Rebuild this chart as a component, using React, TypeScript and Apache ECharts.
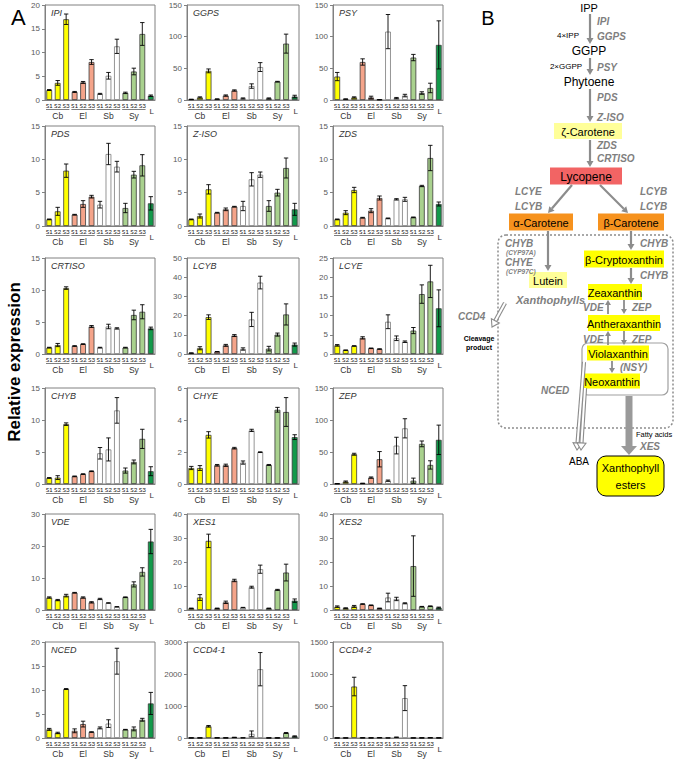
import React, { useEffect, useRef } from "react";
import * as echarts from "echarts";

const FONT = "'Liberation Sans', Arial, sans-serif";
const NARROW = "'Liberation Sans Narrow', Lato, 'Liberation Sans', sans-serif";

const categories = ["S1", "S2", "S3", "S1", "S2", "S3", "S1", "S2", "S3", "S1", "S2", "S3", "L"];
const groupNames = ["Cb", "El", "Sb", "Sy"];
const groupRanges = [[0, 2], [3, 5], [6, 8], [9, 11]];
const groupColors = ["#FFFF00", "#F4A48A", "#FFFFFF", "#A9D18E", "#12994A"];

const ipiMean = [2.1, 3.6, 17.0, 1.7, 3.7, 8.0, 1.3, 5.1, 11.3, 1.5, 6.0, 13.9, 0.9];
const ipiErr = [0.1, 0.5, 1.1, 0.1, 0.2, 0.5, 0.1, 0.7, 1.5, 0.15, 0.7, 2.4, 0.15];
const ggpsMean = [1, 4, 46, 1.5, 7, 15, 2.5, 22, 52, 2.5, 29, 89, 5.5];
const ggpsErr = [0.3, 1, 3, 0.3, 1, 1, 0.8, 3.5, 7, 0.8, 0.5, 15, 2];
const psyMean = [37, 1.5, 4, 60, 4, 0.5, 108, 3, 7, 67, 11, 19, 87];
const psyErr = [6.5, 0.3, 1, 5, 2, 0.2, 27, 1, 2, 5, 2, 7.5, 38];
const pdsMean = [1.0, 2.2, 8.3, 1.7, 3.3, 4.4, 3.2, 10.8, 8.9, 2.7, 7.7, 9.1, 3.4];
const pdsErr = [0.05, 0.6, 1.0, 0.05, 0.5, 0.2, 0.5, 1.6, 0.8, 0.7, 0.5, 1.6, 1.0];
const zisoMean = [1.0, 1.5, 5.5, 2.0, 2.5, 2.9, 3.0, 7.0, 7.7, 3.0, 5.0, 8.7, 2.5];
const zisoErr = [0.05, 0.3, 0.7, 0.05, 0.2, 0.05, 0.7, 1.0, 0.4, 0.8, 0.5, 1.5, 0.9];
const zdsMean = [1.0, 2.0, 5.4, 1.25, 2.3, 4.2, 1.15, 4.0, 4.0, 1.3, 6.0, 10.2, 3.3];
const zdsErr = [0.05, 0.3, 0.4, 0.05, 0.3, 0.3, 0.05, 0.1, 0.3, 0.05, 0.1, 1.9, 0.3];
const crtisoMean = [1.0, 1.4, 10.3, 1.25, 1.55, 4.3, 1.0, 4.3, 4.0, 1.0, 6.1, 6.6, 4.0];
const crtisoErr = [0.05, 0.25, 0.2, 0.05, 0.05, 0.15, 0.05, 0.35, 0.1, 0.05, 0.75, 1.1, 0.2];
const lcybMean = [0.5, 3, 19.2, 1.2, 4.5, 9.6, 2.6, 18, 37.2, 2.8, 10.1, 20.6, 4.9];
const lcybErr = [0.1, 0.8, 1.2, 0.1, 0.5, 0.5, 0.6, 3.7, 3.3, 1.2, 0.8, 5.5, 0.8];
const lcyeMean = [2.25, 1.0, 2.1, 4.2, 1.5, 1.3, 8.4, 4.1, 3.2, 6.1, 15.6, 18.9, 11.9];
const lcyeErr = [0.2, 0.05, 0.05, 0.3, 0.05, 0.05, 1.8, 0.6, 0.2, 0.8, 2.4, 4.2, 4.8];
const chybMean = [0.95, 1.0, 9.35, 1.2, 1.55, 2.0, 4.8, 5.4, 11.5, 2.1, 3.45, 7.05, 2.0];
const chybErr = [0.05, 0.3, 0.2, 0.05, 0.05, 0.05, 0.9, 1.8, 2.0, 0.4, 0.3, 1.5, 0.7];
const chyeMean = [1.0, 1.0, 3.07, 1.17, 1.17, 2.24, 1.34, 3.35, 1.99, 1.19, 4.64, 4.5, 2.93];
const chyeErr = [0.1, 0.15, 0.2, 0.05, 0.07, 0.05, 0.1, 0.07, 0.02, 0.03, 0.15, 0.9, 0.15];
const zepMean = [0.5, 3.7, 46.5, 1, 10, 38.7, 5.2, 60, 87, 5.2, 62.7, 29.8, 69];
const zepErr = [0.2, 1, 1.5, 0.3, 1, 12, 1, 13, 15, 4, 4.5, 6.5, 23];
const vdeMean = [3.9, 3.1, 4.5, 5.4, 3.9, 2.4, 3.45, 2.2, 1.0, 4.0, 8.0, 11.9, 21.4];
const vdeErr = [0.2, 0.2, 0.4, 0.1, 0.2, 0.2, 0.2, 0.05, 0.05, 0.1, 0.8, 1.3, 3.8];
const xes1Mean = [0.7, 5.2, 28.8, 0.7, 3.2, 12.3, 1.0, 9.5, 17.0, 0.7, 8.4, 15.6, 3.9];
const xes1Err = [0.1, 1.2, 2.8, 0.1, 0.5, 0.5, 0.1, 0.4, 1.7, 0.1, 0.2, 3.5, 0.7];
const xes2Mean = [1.4, 0.8, 1.5, 2.5, 2.0, 0.7, 5.2, 4.6, 2.8, 18.3, 1.4, 1.6, 1.0];
const xes2Err = [0.3, 0.1, 0.4, 0.1, 0.1, 0.1, 1.8, 0.7, 0.2, 12.6, 0.1, 0.1, 0.2];
const ncedMean = [1.8, 1.05, 10.2, 1.5, 2.9, 1.25, 2.1, 3.0, 16.0, 1.75, 1.9, 3.8, 7.2];
const ncedErr = [0.2, 0.15, 0.1, 0.4, 0.6, 0.05, 0.2, 0.8, 2.7, 0.05, 0.4, 0.3, 2.3];
const ccd41Mean = [3, 4, 366, 6, 5, 20, 5, 130, 2150, 3, 3, 157, 52];
const ccd41Err = [1, 1, 25, 1, 1, 3, 1, 90, 520, 1, 1, 15, 15];
const ccd42Mean = [1, 1, 804, 3, 2, 5, 1, 12, 623, 1, 2, 4, 2];
const ccd42Err = [0.3, 0.3, 145, 1, 1, 1, 0.3, 3, 195, 0.3, 0.5, 1, 0.5];

const geneNames = ["IPI", "GGPS", "PSY", "PDS", "Z-ISO", "ZDS", "CRTISO", "LCYB", "LCYE", "CHYB", "CHYE", "ZEP", "VDE", "XES1", "XES2", "NCED", "CCD4-1", "CCD4-2"];
const geneMeans = [ipiMean, ggpsMean, psyMean, pdsMean, zisoMean, zdsMean, crtisoMean, lcybMean, lcyeMean, chybMean, chyeMean, zepMean, vdeMean, xes1Mean, xes2Mean, ncedMean, ccd41Mean, ccd42Mean];
const geneErrs = [ipiErr, ggpsErr, psyErr, pdsErr, zisoErr, zdsErr, crtisoErr, lcybErr, lcyeErr, chybErr, chyeErr, zepErr, vdeErr, xes1Err, xes2Err, ncedErr, ccd41Err, ccd42Err];
const axisMax = [20, 150, 150, 15, 15, 15, 15, 50, 25, 15, 6, 150, 30, 40, 40, 20, 3000, 1500];
const axisStep = [5, 50, 50, 5, 5, 5, 5, 10, 5, 5, 2, 50, 10, 10, 10, 5, 1000, 500];

const colLeft = [45, 187, 333];
const colWidth = [110, 112, 110];
const rowTop = [5, 126, 258, 388, 514, 642];
const rowHeight = [95, 100, 96, 96, 96, 96];

const GRAY = "#8C8C8C";
const ENZ = "#7F7F7F";

function txt(text: string, x: number, y: number, o: any = {}) {
  const align = o.align || "center";
  return {
    type: "text",
    x,
    y,
    z: 20,
    silent: true,
    style: {
      text,
      fill: o.fill || "#000",
      fontSize: o.size || 11,
      fontWeight: o.bold ? "bold" : "normal",
      fontStyle: o.italic ? "italic" : "normal",
      fontFamily: FONT,
      align,
      verticalAlign: "middle",
      textAlign: align,
      textVerticalAlign: "middle",
    },
  };
}
function enz(text: string, x: number, y: number, size = 10, align = "left") {
  return txt(text, x, y, { fill: ENZ, bold: true, italic: true, size, align });
}
function box(text: string, cx: number, cy: number, w: number, h: number, fill: string, size = 11) {
  return [
    {
      type: "rect",
      z: 10,
      silent: true,
      shape: { x: cx - w / 2, y: cy - h / 2, width: w, height: h },
      style: { fill, stroke: "none" },
    },
    txt(text, cx, cy + 0.5, { size }),
  ];
}
function arrow(x1: number, y1: number, x2: number, y2: number, lw = 2.2, head = 6, hw = 3.5, color = GRAY) {
  const dx = x2 - x1, dy = y2 - y1;
  const len = Math.sqrt(dx * dx + dy * dy);
  const ux = dx / len, uy = dy / len;
  const bx = x2 - ux * head, by = y2 - uy * head;
  const nx = -uy, ny = ux;
  return [
    { type: "line", z: 12, silent: true, shape: { x1, y1, x2: bx, y2: by }, style: { stroke: color, lineWidth: lw } },
    {
      type: "polygon",
      z: 12,
      silent: true,
      shape: { points: [[x2, y2], [bx + nx * hw, by + ny * hw], [bx - nx * hw, by - ny * hw]] },
      style: { fill: color, stroke: "none" },
    },
  ];
}
function hollowArrow(pts: number[][], head = 7, hw = 4.5) {
  const n = pts.length;
  const [x2, y2] = pts[n - 1];
  const [x1, y1] = pts[n - 2];
  const dx = x2 - x1, dy = y2 - y1;
  const len = Math.sqrt(dx * dx + dy * dy);
  const ux = dx / len, uy = dy / len;
  const bx = x2 - ux * head, by = y2 - uy * head;
  const nx = -uy, ny = ux;
  const body = pts.slice(0, n - 1).concat([[bx, by]]);
  return [
    { type: "polyline", z: 12, silent: true, shape: { points: body }, style: { stroke: "#8C8C8C", lineWidth: 4.2, fill: "none" } },
    { type: "polyline", z: 13, silent: true, shape: { points: body }, style: { stroke: "#FFFFFF", lineWidth: 2, fill: "none" } },
    {
      type: "polygon",
      z: 14,
      silent: true,
      shape: { points: [[x2, y2], [bx + nx * hw, by + ny * hw], [bx - nx * hw, by - ny * hw]] },
      style: { fill: "#FFFFFF", stroke: "#8C8C8C", lineWidth: 1.1 },
    },
  ];
}

function buildPanelB(): any[] {
  const els: any[] = [];
  els.push(txt("B", 488, 18, { size: 20 }));
  els.push({
    type: "rect",
    z: 5,
    silent: true,
    shape: { x: 498, y: 235, width: 175, height: 193, r: 8 },
    style: { fill: "none", stroke: "#8C8C8C", lineWidth: 1.5, lineDash: [2, 2] },
  });
  els.push({
    type: "rect",
    z: 6,
    silent: true,
    shape: { x: 582, y: 343, width: 86, height: 52, r: 6 },
    style: { fill: "#FFFFFF", stroke: "#A0A0A0", lineWidth: 1.2 },
  });
  els.push(txt("IPP", 589, 8, { size: 11 }));
  els.push(txt("GGPP", 589, 51, { size: 12 }));
  els.push(txt("Phytoene", 589, 82, { size: 12 }));
  els.push(...box("ζ-Carotene", 588, 131, 68, 16, "#FFFF99"));
  els.push(...box("Lycopene", 586, 176, 72, 17, "#F26464", 12));
  els.push(...box("α-Carotene", 541, 222, 64, 17, "#F6921E"));
  els.push(...box("β-Carotene", 631, 222, 66, 17, "#F6921E"));
  els.push(...box("Lutein", 548, 280, 38, 16, "#FFFF99"));
  els.push(...box("β-Cryptoxanthin", 624, 259, 80, 17, "#FFFF00"));
  els.push(...box("Zeaxanthin", 615, 292, 54, 16, "#FFFF00"));
  els.push(...box("Antheraxanthin", 624, 323, 72, 16, "#FFFF00"));
  els.push(...box("Violaxanthin", 618, 353, 62, 15, "#FFFF00"));
  els.push(...box("Neoxanthin", 612, 381, 56, 15, "#FFFF00"));
  els.push({
    type: "rect",
    z: 10,
    silent: true,
    shape: { x: 597, y: 456, width: 67, height: 40, r: 9 },
    style: { fill: "#FFFF00", stroke: "#000", lineWidth: 1 },
  });
  els.push(txt("Xanthophyll", 630.5, 468, { size: 11 }));
  els.push(txt("esters", 630.5, 485, { size: 11 }));
  els.push(txt("ABA", 579, 461, { size: 10 }));
  els.push(txt("4×IPP", 568, 35, { size: 8 }));
  els.push(txt("2×GGPP", 566, 66, { size: 8 }));
  els.push(txt("Fatty acids", 654, 434, { size: 7.5 }));
  els.push(txt("Cleavage", 479, 338, { size: 7, bold: true }));
  els.push(txt("product", 479, 347, { size: 7, bold: true }));
  els.push(enz("IPI", 597, 21));
  els.push(enz("GGPS", 597, 36));
  els.push(enz("PSY", 597, 67));
  els.push(enz("PDS", 597, 97));
  els.push(enz("Z-ISO", 597, 117));
  els.push(enz("ZDS", 597, 145));
  els.push(enz("CRTISO", 597, 158));
  els.push(enz("LCYE", 515, 191));
  els.push(enz("LCYB", 515, 206));
  els.push(enz("LCYB", 640, 191));
  els.push(enz("LCYB", 640, 206));
  els.push(enz("CHYB", 505, 243));
  els.push(enz("(CYP97A)", 506, 252, 6.5));
  els.push(enz("CHYE", 505, 262));
  els.push(enz("(CYP97C)", 506, 271, 6.5));
  els.push(enz("CHYB", 640, 243));
  els.push(enz("CHYB", 640, 275));
  els.push(enz("VDE", 583, 307));
  els.push(enz("ZEP", 632, 307));
  els.push(enz("VDE", 583, 339));
  els.push(enz("ZEP", 632, 339));
  els.push(enz("(NSY)", 620, 367));
  els.push(enz("NCED", 541, 390));
  els.push(enz("XES", 640, 446));
  els.push(enz("CCD4", 458, 316));
  els.push(enz("Xanthophylls", 516, 300, 11));
  els.push(...arrow(590, 14, 590, 44));
  els.push(...arrow(590, 58, 590, 75));
  els.push(...arrow(590, 89, 590, 122));
  els.push(...arrow(590, 140, 590, 167));
  els.push(...arrow(572, 185, 548, 213));
  els.push(...arrow(600, 185, 628, 213));
  els.push(...arrow(548, 231, 548, 271));
  els.push(...arrow(631, 231, 631, 250));
  els.push(...arrow(631, 268, 631, 284));
  els.push(...arrow(624, 300, 624, 314, 1.8, 5, 3));
  els.push(...arrow(608, 314, 608, 300, 1.8, 5, 3));
  els.push(...arrow(624, 331, 624, 345, 1.8, 5, 3));
  els.push(...arrow(608, 345, 608, 331, 1.8, 5, 3));
  els.push(...arrow(612, 361, 612, 373, 1.8, 5, 3));
  els.push(...arrow(629, 396, 629, 455, 7, 9, 8, "#9A9A9A"));
  els.push(...hollowArrow([[584, 362], [577, 450]]));
  els.push(...hollowArrow([[585, 388], [581, 450]]));
  els.push(...hollowArrow([[505, 303], [492, 327]]));
  return els;
}

function buildOption(): any {
  const grids: any[] = [];
  const xAxes: any[] = [];
  const yAxes: any[] = [];
  const series: any[] = [];
  const titles: any[] = [];
  geneNames.forEach((name, i) => {
    const r = Math.floor(i / 3), c = i % 3;
    const left = colLeft[c], top = rowTop[r], width = colWidth[c], height = rowHeight[r];
    grids.push({
      left, top, width, height,
      containLabel: false,
      outerBoundsMode: "none",
      show: true,
      borderColor: "#808080",
      borderWidth: 1,
      backgroundColor: "transparent",
    });
    xAxes.push({
      type: "category",
      gridIndex: i,
      data: categories,
      axisTick: { show: false },
      axisLine: { lineStyle: { color: "#808080", width: 1 } },
      axisLabel: {
        interval: 0,
        margin: 2,
        fontSize: 6.4,
        color: "#222",
        fontFamily: NARROW,
        formatter: (v: string) => (v === "L" ? "{l|L}" : v),
        rich: { l: { fontSize: 8, color: "#333", padding: [5, 0, 0, 2], fontFamily: FONT } },
      },
    });
    yAxes.push({
      type: "value",
      gridIndex: i,
      min: 0,
      max: axisMax[i],
      interval: axisStep[i],
      splitLine: { show: false },
      axisLine: { show: true, lineStyle: { color: "#808080" } },
      axisTick: { show: true, length: 3, lineStyle: { color: "#808080" } },
      axisLabel: { fontSize: 8, color: "#595959", margin: 5, fontFamily: FONT, formatter: (v: number) => String(v) },
    });
    titles.push({
      text: name,
      left: left + 6,
      top: top + 3,
      padding: 0,
      textStyle: { fontSize: 9, fontStyle: "italic", fontWeight: "normal", color: "#333", fontFamily: FONT },
    });
    const means = geneMeans[i];
    const errs = geneErrs[i];
    series.push({
      type: "bar",
      xAxisIndex: i,
      yAxisIndex: i,
      barWidth: "68%",
      data: means.map((v, j) => {
        const g = j === 12 ? 4 : Math.floor(j / 3);
        return {
          value: v,
          itemStyle: {
            color: groupColors[g],
            borderColor: g === 2 ? "#7A7A7A" : "#3A3A3A",
            borderWidth: 0.8,
          },
        };
      }),
    });
    series.push({
      type: "custom",
      xAxisIndex: i,
      yAxisIndex: i,
      clip: false,
      z: 5,
      data: means.map((v, j) => [j, v, errs[j]]),
      renderItem: (params: any, api: any) => {
        const x = api.value(0), m = api.value(1), e = api.value(2);
        const hi = api.coord([x, m + e]);
        const lo = api.coord([x, Math.max(0, m - e)]);
        const cw = 2.2;
        return {
          type: "group",
          children: [
            { type: "line", shape: { x1: hi[0], y1: hi[1], x2: lo[0], y2: lo[1] }, style: { stroke: "#000", lineWidth: 0.9 } },
            { type: "line", shape: { x1: hi[0] - cw, y1: hi[1], x2: hi[0] + cw, y2: hi[1] }, style: { stroke: "#000", lineWidth: 0.9 } },
            { type: "line", shape: { x1: lo[0] - cw, y1: lo[1], x2: lo[0] + cw, y2: lo[1] }, style: { stroke: "#000", lineWidth: 0.9 } },
          ],
        };
      },
    });
    series.push({
      type: "custom",
      xAxisIndex: i,
      yAxisIndex: i,
      clip: false,
      silent: true,
      data: groupRanges.map((g) => [g[0], g[1]]),
      renderItem: (params: any, api: any) => {
        const s = api.value(0), e = api.value(1);
        const p1 = api.coord([s, 0]);
        const p2 = api.coord([e, 0]);
        const bw = api.size([1, 0])[0];
        const x1 = p1[0] - bw / 2 + 1, x2 = p2[0] + bw / 2 - 1, y = p1[1] + 9.5;
        return {
          type: "group",
          children: [
            { type: "line", shape: { x1, y1: y, x2, y2: y }, style: { stroke: "#808080", lineWidth: 1 } },
            {
              type: "text",
              x: (x1 + x2) / 2,
              y: y + 1.5,
              style: {
                text: groupNames[params.dataIndex],
                fill: "#333",
                fontSize: 8.5,
                fontFamily: FONT,
                align: "center",
                verticalAlign: "top",
                textAlign: "center",
                textVerticalAlign: "top",
              },
            },
          ],
        };
      },
    });
  });
  titles.push({ text: "A", left: 11, top: 6, padding: 0, textStyle: { fontSize: 22, fontWeight: "normal", color: "#000", fontFamily: FONT } });
  const graphic: any[] = [
    {
      type: "text",
      x: 14,
      y: 362,
      rotation: Math.PI / 2,
      silent: true,
      style: {
        text: "Relative expression",
        fill: "#000",
        fontSize: 17,
        fontWeight: "bold",
        fontFamily: FONT,
        align: "center",
        verticalAlign: "middle",
        textAlign: "center",
        textVerticalAlign: "middle",
      },
    },
    ...buildPanelB(),
  ];
  return {
    animation: false,
    backgroundColor: "#FFFFFF",
    textStyle: { fontFamily: FONT },
    title: titles,
    grid: grids,
    xAxis: xAxes,
    yAxis: yAxes,
    series,
    graphic,
  };
}

export default function App() {
  const ref = useRef<HTMLDivElement>(null);
  useEffect(() => {
    if (!ref.current) return;
    const chart = echarts.init(ref.current, undefined, { renderer: "svg" });
    chart.setOption(buildOption());
    return () => chart.dispose();
  }, []);
  return <div ref={ref} style={{ position: "fixed", left: 0, top: 0, width: 685, height: 759 }} />;
}
